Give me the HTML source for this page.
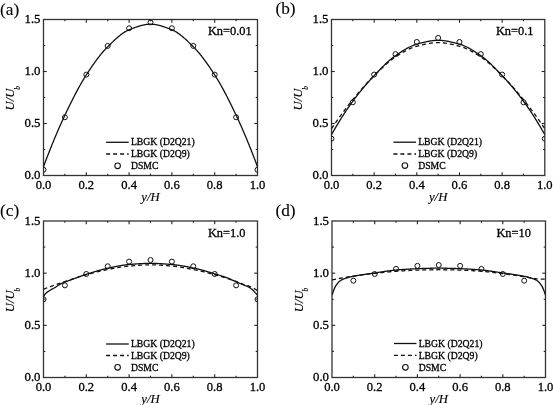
<!DOCTYPE html>
<html><head><meta charset="utf-8"><style>
html,body{margin:0;padding:0;background:#fff;}
svg{display:block;will-change:transform;}
text{font-family:"Liberation Serif", serif;fill:#000;stroke:#000;stroke-width:0.3px;}
</style></head><body>
<svg width="553" height="405" viewBox="0 0 553 405">
<defs><clipPath id="ca"><rect x="43.5" y="19.5" width="214.0" height="156.0"/></clipPath></defs>
<rect x="43.5" y="19.5" width="214.0" height="156.0" fill="none" stroke="#333" stroke-width="1.3"/>
<line x1="64.90" y1="175.5" x2="64.90" y2="173.7" stroke="#222" stroke-width="1.1"/>
<line x1="64.90" y1="19.5" x2="64.90" y2="21.3" stroke="#222" stroke-width="1.1"/>
<line x1="86.30" y1="175.5" x2="86.30" y2="172.3" stroke="#222" stroke-width="1.1"/>
<line x1="86.30" y1="19.5" x2="86.30" y2="22.7" stroke="#222" stroke-width="1.1"/>
<line x1="107.70" y1="175.5" x2="107.70" y2="173.7" stroke="#222" stroke-width="1.1"/>
<line x1="107.70" y1="19.5" x2="107.70" y2="21.3" stroke="#222" stroke-width="1.1"/>
<line x1="129.10" y1="175.5" x2="129.10" y2="172.3" stroke="#222" stroke-width="1.1"/>
<line x1="129.10" y1="19.5" x2="129.10" y2="22.7" stroke="#222" stroke-width="1.1"/>
<line x1="150.50" y1="175.5" x2="150.50" y2="173.7" stroke="#222" stroke-width="1.1"/>
<line x1="150.50" y1="19.5" x2="150.50" y2="21.3" stroke="#222" stroke-width="1.1"/>
<line x1="171.90" y1="175.5" x2="171.90" y2="172.3" stroke="#222" stroke-width="1.1"/>
<line x1="171.90" y1="19.5" x2="171.90" y2="22.7" stroke="#222" stroke-width="1.1"/>
<line x1="193.30" y1="175.5" x2="193.30" y2="173.7" stroke="#222" stroke-width="1.1"/>
<line x1="193.30" y1="19.5" x2="193.30" y2="21.3" stroke="#222" stroke-width="1.1"/>
<line x1="214.70" y1="175.5" x2="214.70" y2="172.3" stroke="#222" stroke-width="1.1"/>
<line x1="214.70" y1="19.5" x2="214.70" y2="22.7" stroke="#222" stroke-width="1.1"/>
<line x1="236.10" y1="175.5" x2="236.10" y2="173.7" stroke="#222" stroke-width="1.1"/>
<line x1="236.10" y1="19.5" x2="236.10" y2="21.3" stroke="#222" stroke-width="1.1"/>
<line x1="43.5" y1="149.50" x2="45.3" y2="149.50" stroke="#222" stroke-width="1.1"/>
<line x1="257.5" y1="149.50" x2="255.7" y2="149.50" stroke="#222" stroke-width="1.1"/>
<line x1="43.5" y1="123.50" x2="46.7" y2="123.50" stroke="#222" stroke-width="1.1"/>
<line x1="257.5" y1="123.50" x2="254.3" y2="123.50" stroke="#222" stroke-width="1.1"/>
<line x1="43.5" y1="97.50" x2="45.3" y2="97.50" stroke="#222" stroke-width="1.1"/>
<line x1="257.5" y1="97.50" x2="255.7" y2="97.50" stroke="#222" stroke-width="1.1"/>
<line x1="43.5" y1="71.50" x2="46.7" y2="71.50" stroke="#222" stroke-width="1.1"/>
<line x1="257.5" y1="71.50" x2="254.3" y2="71.50" stroke="#222" stroke-width="1.1"/>
<line x1="43.5" y1="45.50" x2="45.3" y2="45.50" stroke="#222" stroke-width="1.1"/>
<line x1="257.5" y1="45.50" x2="255.7" y2="45.50" stroke="#222" stroke-width="1.1"/>
<g clip-path="url(#ca)">
<path d="M43.50,166.66L44.04,165.23L44.57,163.81L45.11,162.40L45.65,160.99L46.18,159.58L46.72,158.19L47.25,156.80L47.79,155.42L48.33,154.04L48.86,152.67L49.40,151.31L49.94,149.95L50.47,148.60L51.01,147.26L51.55,145.93L52.08,144.60L52.62,143.28L53.15,141.97L53.69,140.66L54.23,139.37L54.76,138.07L55.30,136.79L55.84,135.52L56.37,134.25L56.91,132.99L57.44,131.74L57.98,130.49L58.52,129.26L59.05,128.03L59.59,126.81L60.13,125.60L60.66,124.39L61.20,123.20L61.74,122.01L62.27,120.83L62.81,119.66L63.34,118.50L63.88,117.35L64.42,116.20L64.95,115.07L65.49,113.94L66.03,112.81L66.56,111.69L67.10,110.57L67.64,109.46L68.17,108.35L68.71,107.24L69.24,106.14L69.78,105.05L70.32,103.96L70.85,102.87L71.39,101.79L71.93,100.72L72.46,99.66L73.00,98.60L73.54,97.54L74.07,96.50L74.61,95.46L75.14,94.42L75.68,93.40L76.22,92.38L76.75,91.37L77.29,90.37L77.83,89.38L78.36,88.39L78.90,87.42L79.43,86.45L79.97,85.49L80.51,84.54L81.04,83.60L81.58,82.67L82.12,81.75L82.65,80.84L83.19,79.94L83.73,79.05L84.26,78.17L84.80,77.30L85.33,76.45L85.87,75.60L86.41,74.77L86.94,73.94L87.48,73.11L88.02,72.29L88.55,71.48L89.09,70.67L89.63,69.86L90.16,69.06L90.70,68.26L91.23,67.47L91.77,66.68L92.31,65.90L92.84,65.13L93.38,64.36L93.92,63.60L94.45,62.84L94.99,62.09L95.53,61.35L96.06,60.61L96.60,59.88L97.13,59.16L97.67,58.45L98.21,57.74L98.74,57.05L99.28,56.36L99.82,55.67L100.35,55.00L100.89,54.34L101.42,53.68L101.96,53.04L102.50,52.40L103.03,51.77L103.57,51.16L104.11,50.55L104.64,49.95L105.18,49.36L105.72,48.79L106.25,48.22L106.79,47.67L107.32,47.12L107.86,46.59L108.40,46.06L108.93,45.53L109.47,45.00L110.01,44.47L110.54,43.94L111.08,43.42L111.62,42.90L112.15,42.38L112.69,41.86L113.22,41.35L113.76,40.84L114.30,40.34L114.83,39.84L115.37,39.35L115.91,38.86L116.44,38.38L116.98,37.90L117.52,37.44L118.05,36.98L118.59,36.52L119.12,36.08L119.66,35.64L120.20,35.21L120.73,34.80L121.27,34.39L121.81,33.99L122.34,33.60L122.88,33.23L123.41,32.86L123.95,32.51L124.49,32.17L125.02,31.84L125.56,31.52L126.10,31.22L126.63,30.93L127.17,30.66L127.71,30.40L128.24,30.15L128.78,29.93L129.31,29.71L129.85,29.50L130.39,29.29L130.92,29.08L131.46,28.87L132.00,28.66L132.53,28.45L133.07,28.25L133.61,28.05L134.14,27.85L134.68,27.65L135.21,27.45L135.75,27.26L136.29,27.07L136.82,26.89L137.36,26.70L137.90,26.53L138.43,26.35L138.97,26.18L139.51,26.02L140.04,25.86L140.58,25.71L141.11,25.56L141.65,25.42L142.19,25.29L142.72,25.16L143.26,25.03L143.80,24.92L144.33,24.81L144.87,24.71L145.40,24.62L145.94,24.53L146.48,24.46L147.01,24.39L147.55,24.33L148.09,24.28L148.62,24.24L149.16,24.21L149.70,24.19L150.23,24.18L150.77,24.18L151.30,24.19L151.84,24.21L152.38,24.24L152.91,24.28L153.45,24.33L153.99,24.39L154.52,24.46L155.06,24.53L155.60,24.62L156.13,24.71L156.67,24.81L157.20,24.92L157.74,25.03L158.28,25.16L158.81,25.29L159.35,25.42L159.89,25.56L160.42,25.71L160.96,25.86L161.49,26.02L162.03,26.18L162.57,26.35L163.10,26.53L163.64,26.70L164.18,26.89L164.71,27.07L165.25,27.26L165.79,27.45L166.32,27.65L166.86,27.85L167.39,28.05L167.93,28.25L168.47,28.45L169.00,28.66L169.54,28.87L170.08,29.08L170.61,29.29L171.15,29.50L171.69,29.71L172.22,29.93L172.76,30.15L173.29,30.40L173.83,30.66L174.37,30.93L174.90,31.22L175.44,31.52L175.98,31.84L176.51,32.17L177.05,32.51L177.59,32.86L178.12,33.23L178.66,33.60L179.19,33.99L179.73,34.39L180.27,34.80L180.80,35.21L181.34,35.64L181.88,36.08L182.41,36.52L182.95,36.98L183.48,37.44L184.02,37.90L184.56,38.38L185.09,38.86L185.63,39.35L186.17,39.84L186.70,40.34L187.24,40.84L187.78,41.35L188.31,41.86L188.85,42.38L189.38,42.90L189.92,43.42L190.46,43.94L190.99,44.47L191.53,45.00L192.07,45.53L192.60,46.06L193.14,46.59L193.68,47.12L194.21,47.67L194.75,48.22L195.28,48.79L195.82,49.36L196.36,49.95L196.89,50.55L197.43,51.16L197.97,51.77L198.50,52.40L199.04,53.04L199.58,53.68L200.11,54.34L200.65,55.00L201.18,55.67L201.72,56.36L202.26,57.05L202.79,57.74L203.33,58.45L203.87,59.16L204.40,59.88L204.94,60.61L205.47,61.35L206.01,62.09L206.55,62.84L207.08,63.60L207.62,64.36L208.16,65.13L208.69,65.90L209.23,66.68L209.77,67.47L210.30,68.26L210.84,69.06L211.37,69.86L211.91,70.67L212.45,71.48L212.98,72.29L213.52,73.11L214.06,73.94L214.59,74.77L215.13,75.60L215.67,76.45L216.20,77.30L216.74,78.17L217.27,79.05L217.81,79.94L218.35,80.84L218.88,81.75L219.42,82.67L219.96,83.60L220.49,84.54L221.03,85.49L221.57,86.45L222.10,87.42L222.64,88.39L223.17,89.38L223.71,90.37L224.25,91.37L224.78,92.38L225.32,93.40L225.86,94.42L226.39,95.46L226.93,96.50L227.46,97.54L228.00,98.60L228.54,99.66L229.07,100.72L229.61,101.79L230.15,102.87L230.68,103.96L231.22,105.05L231.76,106.14L232.29,107.24L232.83,108.35L233.36,109.46L233.90,110.57L234.44,111.69L234.97,112.81L235.51,113.94L236.05,115.07L236.58,116.20L237.12,117.35L237.66,118.50L238.19,119.66L238.73,120.83L239.26,122.01L239.80,123.20L240.34,124.39L240.87,125.60L241.41,126.81L241.95,128.03L242.48,129.26L243.02,130.49L243.56,131.74L244.09,132.99L244.63,134.25L245.16,135.52L245.70,136.79L246.24,138.07L246.77,139.37L247.31,140.66L247.85,141.97L248.38,143.28L248.92,144.60L249.45,145.93L249.99,147.26L250.53,148.60L251.06,149.95L251.60,151.31L252.14,152.67L252.67,154.04L253.21,155.42L253.75,156.80L254.28,158.19L254.82,159.58L255.35,160.99L255.89,162.40L256.43,163.81L256.96,165.23L257.50,166.66" fill="none" stroke="#111" stroke-width="1.3"/>
<circle cx="43.50" cy="169.78" r="2.5" fill="none" stroke="#111" stroke-width="1.0"/>
<circle cx="64.90" cy="117.26" r="2.5" fill="none" stroke="#111" stroke-width="1.0"/>
<circle cx="86.30" cy="74.62" r="2.5" fill="none" stroke="#111" stroke-width="1.0"/>
<circle cx="107.70" cy="45.92" r="2.5" fill="none" stroke="#111" stroke-width="1.0"/>
<circle cx="129.10" cy="28.24" r="2.5" fill="none" stroke="#111" stroke-width="1.0"/>
<circle cx="150.50" cy="22.41" r="2.5" fill="none" stroke="#111" stroke-width="1.0"/>
<circle cx="171.90" cy="28.24" r="2.5" fill="none" stroke="#111" stroke-width="1.0"/>
<circle cx="193.30" cy="45.92" r="2.5" fill="none" stroke="#111" stroke-width="1.0"/>
<circle cx="214.70" cy="74.62" r="2.5" fill="none" stroke="#111" stroke-width="1.0"/>
<circle cx="236.10" cy="117.26" r="2.5" fill="none" stroke="#111" stroke-width="1.0"/>
<circle cx="257.50" cy="169.78" r="2.5" fill="none" stroke="#111" stroke-width="1.0"/>
</g>
<text x="43.50" y="188.8" text-anchor="middle" font-size="12.6">0.0</text>
<text x="86.30" y="188.8" text-anchor="middle" font-size="12.6">0.2</text>
<text x="129.10" y="188.8" text-anchor="middle" font-size="12.6">0.4</text>
<text x="171.90" y="188.8" text-anchor="middle" font-size="12.6">0.6</text>
<text x="214.70" y="188.8" text-anchor="middle" font-size="12.6">0.8</text>
<text x="257.50" y="188.8" text-anchor="middle" font-size="12.6">1.0</text>
<text x="40.5" y="178.60" text-anchor="end" font-size="12.8">0.0</text>
<text x="40.5" y="126.60" text-anchor="end" font-size="12.8">0.5</text>
<text x="40.5" y="74.60" text-anchor="end" font-size="12.8">1.0</text>
<text x="40.5" y="22.60" text-anchor="end" font-size="12.8">1.5</text>
<text x="150.50" y="201.1" text-anchor="middle" font-size="12.7" font-style="italic" style="stroke-width:0.15px">y/H</text>
<g transform="translate(14.2,98.2) rotate(-90)"><text x="0" y="0" text-anchor="middle" font-size="12.7" font-style="italic" style="stroke-width:0.15px">U/U<tspan font-size="7.5" dx="-1.0" dy="5.5">b</tspan></text></g>
<text x="0" y="15.0" font-size="17.3" style="stroke-width:0.1px">(a)</text>
<text x="207.9" y="35.4" font-size="12.4">Kn=0.01</text>
<line x1="106.1" y1="142.3" x2="128.7" y2="142.3" stroke="#111" stroke-width="1.3"/>
<line x1="106.1" y1="154.0" x2="128.7" y2="154.0" stroke="#111" stroke-width="1.3" stroke-dasharray="4,3"/>
<circle cx="117.6" cy="165.8" r="2.8" fill="none" stroke="#111" stroke-width="1.1"/>
<text x="130.90" y="145.30" font-size="9.7">LBGK (D2Q21)</text>
<text x="130.90" y="156.60" font-size="9.7">LBGK (D2Q9)</text>
<text x="130.90" y="168.70" font-size="9.7">DSMC</text>
<defs><clipPath id="cb"><rect x="331.5" y="19.5" width="213.29999999999995" height="156.0"/></clipPath></defs>
<rect x="331.5" y="19.5" width="213.29999999999995" height="156.0" fill="none" stroke="#333" stroke-width="1.3"/>
<line x1="352.83" y1="175.5" x2="352.83" y2="173.7" stroke="#222" stroke-width="1.1"/>
<line x1="352.83" y1="19.5" x2="352.83" y2="21.3" stroke="#222" stroke-width="1.1"/>
<line x1="374.16" y1="175.5" x2="374.16" y2="172.3" stroke="#222" stroke-width="1.1"/>
<line x1="374.16" y1="19.5" x2="374.16" y2="22.7" stroke="#222" stroke-width="1.1"/>
<line x1="395.49" y1="175.5" x2="395.49" y2="173.7" stroke="#222" stroke-width="1.1"/>
<line x1="395.49" y1="19.5" x2="395.49" y2="21.3" stroke="#222" stroke-width="1.1"/>
<line x1="416.82" y1="175.5" x2="416.82" y2="172.3" stroke="#222" stroke-width="1.1"/>
<line x1="416.82" y1="19.5" x2="416.82" y2="22.7" stroke="#222" stroke-width="1.1"/>
<line x1="438.15" y1="175.5" x2="438.15" y2="173.7" stroke="#222" stroke-width="1.1"/>
<line x1="438.15" y1="19.5" x2="438.15" y2="21.3" stroke="#222" stroke-width="1.1"/>
<line x1="459.48" y1="175.5" x2="459.48" y2="172.3" stroke="#222" stroke-width="1.1"/>
<line x1="459.48" y1="19.5" x2="459.48" y2="22.7" stroke="#222" stroke-width="1.1"/>
<line x1="480.81" y1="175.5" x2="480.81" y2="173.7" stroke="#222" stroke-width="1.1"/>
<line x1="480.81" y1="19.5" x2="480.81" y2="21.3" stroke="#222" stroke-width="1.1"/>
<line x1="502.14" y1="175.5" x2="502.14" y2="172.3" stroke="#222" stroke-width="1.1"/>
<line x1="502.14" y1="19.5" x2="502.14" y2="22.7" stroke="#222" stroke-width="1.1"/>
<line x1="523.47" y1="175.5" x2="523.47" y2="173.7" stroke="#222" stroke-width="1.1"/>
<line x1="523.47" y1="19.5" x2="523.47" y2="21.3" stroke="#222" stroke-width="1.1"/>
<line x1="331.5" y1="149.50" x2="333.3" y2="149.50" stroke="#222" stroke-width="1.1"/>
<line x1="544.8" y1="149.50" x2="543.0" y2="149.50" stroke="#222" stroke-width="1.1"/>
<line x1="331.5" y1="123.50" x2="334.7" y2="123.50" stroke="#222" stroke-width="1.1"/>
<line x1="544.8" y1="123.50" x2="541.5999999999999" y2="123.50" stroke="#222" stroke-width="1.1"/>
<line x1="331.5" y1="97.50" x2="333.3" y2="97.50" stroke="#222" stroke-width="1.1"/>
<line x1="544.8" y1="97.50" x2="543.0" y2="97.50" stroke="#222" stroke-width="1.1"/>
<line x1="331.5" y1="71.50" x2="334.7" y2="71.50" stroke="#222" stroke-width="1.1"/>
<line x1="544.8" y1="71.50" x2="541.5999999999999" y2="71.50" stroke="#222" stroke-width="1.1"/>
<line x1="331.5" y1="45.50" x2="333.3" y2="45.50" stroke="#222" stroke-width="1.1"/>
<line x1="544.8" y1="45.50" x2="543.0" y2="45.50" stroke="#222" stroke-width="1.1"/>
<g clip-path="url(#cb)">
<path d="M331.50,134.63L332.03,133.69L332.57,132.76L333.10,131.83L333.64,130.90L334.17,129.99L334.71,129.07L335.24,128.16L335.78,127.25L336.31,126.35L336.85,125.46L337.38,124.57L337.92,123.68L338.45,122.80L338.98,121.92L339.52,121.05L340.05,120.19L340.59,119.32L341.12,118.47L341.66,117.62L342.19,116.77L342.73,115.93L343.26,115.10L343.80,114.27L344.33,113.45L344.86,112.63L345.40,111.82L345.93,111.01L346.47,110.21L347.00,109.41L347.54,108.63L348.07,107.84L348.61,107.07L349.14,106.29L349.68,105.53L350.21,104.77L350.75,104.02L351.28,103.27L351.81,102.53L352.35,101.80L352.88,101.07L353.42,100.35L353.95,99.63L354.49,98.91L355.02,98.21L355.56,97.50L356.09,96.80L356.63,96.11L357.16,95.42L357.69,94.73L358.23,94.05L358.76,93.38L359.30,92.71L359.83,92.04L360.37,91.37L360.90,90.72L361.44,90.06L361.97,89.41L362.51,88.77L363.04,88.12L363.58,87.49L364.11,86.85L364.64,86.22L365.18,85.60L365.71,84.98L366.25,84.36L366.78,83.74L367.32,83.13L367.85,82.53L368.39,81.93L368.92,81.33L369.46,80.73L369.99,80.14L370.52,79.56L371.06,78.97L371.59,78.39L372.13,77.82L372.66,77.24L373.20,76.68L373.73,76.11L374.27,75.55L374.80,74.99L375.34,74.42L375.87,73.86L376.41,73.30L376.94,72.74L377.47,72.18L378.01,71.62L378.54,71.06L379.08,70.51L379.61,69.95L380.15,69.40L380.68,68.85L381.22,68.30L381.75,67.76L382.29,67.22L382.82,66.68L383.35,66.15L383.89,65.62L384.42,65.10L384.96,64.58L385.49,64.06L386.03,63.55L386.56,63.05L387.10,62.55L387.63,62.06L388.17,61.57L388.70,61.09L389.24,60.62L389.77,60.15L390.30,59.69L390.84,59.24L391.37,58.80L391.91,58.37L392.44,57.94L392.98,57.53L393.51,57.12L394.05,56.72L394.58,56.33L395.12,55.95L395.65,55.58L396.18,55.22L396.72,54.85L397.25,54.49L397.79,54.12L398.32,53.76L398.86,53.40L399.39,53.05L399.93,52.69L400.46,52.34L401.00,51.99L401.53,51.64L402.07,51.30L402.60,50.96L403.13,50.62L403.67,50.29L404.20,49.97L404.74,49.64L405.27,49.33L405.81,49.01L406.34,48.71L406.88,48.40L407.41,48.11L407.95,47.82L408.48,47.54L409.02,47.26L409.55,46.99L410.08,46.73L410.62,46.47L411.15,46.23L411.69,45.99L412.22,45.76L412.76,45.54L413.29,45.32L413.83,45.12L414.36,44.92L414.90,44.74L415.43,44.56L415.96,44.39L416.50,44.24L417.03,44.09L417.57,43.95L418.10,43.80L418.64,43.66L419.17,43.51L419.71,43.37L420.24,43.23L420.78,43.09L421.31,42.95L421.85,42.81L422.38,42.68L422.91,42.54L423.45,42.41L423.98,42.28L424.52,42.16L425.05,42.03L425.59,41.91L426.12,41.79L426.66,41.67L427.19,41.56L427.73,41.45L428.26,41.35L428.79,41.25L429.33,41.15L429.86,41.06L430.40,40.97L430.93,40.89L431.47,40.81L432.00,40.73L432.54,40.66L433.07,40.60L433.61,40.54L434.14,40.49L434.68,40.44L435.21,40.40L435.74,40.37L436.28,40.34L436.81,40.32L437.35,40.31L437.88,40.30L438.42,40.30L438.95,40.31L439.49,40.32L440.02,40.34L440.56,40.37L441.09,40.40L441.62,40.44L442.16,40.49L442.69,40.54L443.23,40.60L443.76,40.66L444.30,40.73L444.83,40.81L445.37,40.89L445.90,40.97L446.44,41.06L446.97,41.15L447.51,41.25L448.04,41.35L448.57,41.45L449.11,41.56L449.64,41.67L450.18,41.79L450.71,41.91L451.25,42.03L451.78,42.16L452.32,42.28L452.85,42.41L453.39,42.54L453.92,42.68L454.45,42.81L454.99,42.95L455.52,43.09L456.06,43.23L456.59,43.37L457.13,43.51L457.66,43.66L458.20,43.80L458.73,43.95L459.27,44.09L459.80,44.24L460.34,44.39L460.87,44.56L461.40,44.74L461.94,44.92L462.47,45.12L463.01,45.32L463.54,45.54L464.08,45.76L464.61,45.99L465.15,46.23L465.68,46.47L466.22,46.73L466.75,46.99L467.28,47.26L467.82,47.54L468.35,47.82L468.89,48.11L469.42,48.40L469.96,48.71L470.49,49.01L471.03,49.33L471.56,49.64L472.10,49.97L472.63,50.29L473.17,50.62L473.70,50.96L474.23,51.30L474.77,51.64L475.30,51.99L475.84,52.34L476.37,52.69L476.91,53.05L477.44,53.40L477.98,53.76L478.51,54.12L479.05,54.49L479.58,54.85L480.12,55.22L480.65,55.58L481.18,55.95L481.72,56.33L482.25,56.72L482.79,57.12L483.32,57.53L483.86,57.94L484.39,58.37L484.93,58.80L485.46,59.24L486.00,59.69L486.53,60.15L487.06,60.62L487.60,61.09L488.13,61.57L488.67,62.06L489.20,62.55L489.74,63.05L490.27,63.55L490.81,64.06L491.34,64.58L491.88,65.10L492.41,65.62L492.95,66.15L493.48,66.68L494.01,67.22L494.55,67.76L495.08,68.30L495.62,68.85L496.15,69.40L496.69,69.95L497.22,70.51L497.76,71.06L498.29,71.62L498.83,72.18L499.36,72.74L499.89,73.30L500.43,73.86L500.96,74.42L501.50,74.99L502.03,75.55L502.57,76.11L503.10,76.68L503.64,77.24L504.17,77.82L504.71,78.39L505.24,78.97L505.78,79.56L506.31,80.14L506.84,80.73L507.38,81.33L507.91,81.93L508.45,82.53L508.98,83.13L509.52,83.74L510.05,84.36L510.59,84.98L511.12,85.60L511.66,86.22L512.19,86.85L512.72,87.49L513.26,88.12L513.79,88.77L514.33,89.41L514.86,90.06L515.40,90.72L515.93,91.37L516.47,92.04L517.00,92.71L517.54,93.38L518.07,94.05L518.61,94.73L519.14,95.42L519.67,96.11L520.21,96.80L520.74,97.50L521.28,98.21L521.81,98.91L522.35,99.63L522.88,100.35L523.42,101.07L523.95,101.80L524.49,102.53L525.02,103.27L525.55,104.02L526.09,104.77L526.62,105.53L527.16,106.29L527.69,107.07L528.23,107.84L528.76,108.63L529.30,109.41L529.83,110.21L530.37,111.01L530.90,111.82L531.44,112.63L531.97,113.45L532.50,114.27L533.04,115.10L533.57,115.93L534.11,116.77L534.64,117.62L535.18,118.47L535.71,119.32L536.25,120.19L536.78,121.05L537.32,121.92L537.85,122.80L538.38,123.68L538.92,124.57L539.45,125.46L539.99,126.35L540.52,127.25L541.06,128.16L541.59,129.07L542.13,129.99L542.66,130.90L543.20,131.83L543.73,132.76L544.27,133.69L544.80,134.63" fill="none" stroke="#111" stroke-width="1.3"/>
<path d="M331.50,128.70L332.03,127.91L332.57,127.12L333.10,126.33L333.64,125.54L334.17,124.76L334.71,123.98L335.24,123.21L335.78,122.44L336.31,121.67L336.85,120.90L337.38,120.14L337.92,119.38L338.45,118.62L338.98,117.87L339.52,117.12L340.05,116.37L340.59,115.63L341.12,114.89L341.66,114.15L342.19,113.42L342.73,112.69L343.26,111.97L343.80,111.24L344.33,110.52L344.86,109.81L345.40,109.10L345.93,108.39L346.47,107.68L347.00,106.98L347.54,106.28L348.07,105.59L348.61,104.90L349.14,104.21L349.68,103.53L350.21,102.85L350.75,102.18L351.28,101.51L351.81,100.84L352.35,100.17L352.88,99.51L353.42,98.86L353.95,98.20L354.49,97.55L355.02,96.90L355.56,96.25L356.09,95.61L356.63,94.97L357.16,94.33L357.69,93.69L358.23,93.05L358.76,92.42L359.30,91.79L359.83,91.17L360.37,90.55L360.90,89.93L361.44,89.31L361.97,88.69L362.51,88.08L363.04,87.48L363.58,86.87L364.11,86.27L364.64,85.67L365.18,85.08L365.71,84.49L366.25,83.90L366.78,83.32L367.32,82.74L367.85,82.16L368.39,81.59L368.92,81.02L369.46,80.46L369.99,79.89L370.52,79.34L371.06,78.79L371.59,78.24L372.13,77.69L372.66,77.15L373.20,76.61L373.73,76.08L374.27,75.55L374.80,75.03L375.34,74.50L375.87,73.97L376.41,73.45L376.94,72.92L377.47,72.39L378.01,71.87L378.54,71.35L379.08,70.82L379.61,70.30L380.15,69.79L380.68,69.27L381.22,68.76L381.75,68.25L382.29,67.74L382.82,67.23L383.35,66.73L383.89,66.24L384.42,65.74L384.96,65.26L385.49,64.77L386.03,64.29L386.56,63.82L387.10,63.35L387.63,62.89L388.17,62.44L388.70,61.99L389.24,61.54L389.77,61.11L390.30,60.68L390.84,60.26L391.37,59.84L391.91,59.44L392.44,59.04L392.98,58.65L393.51,58.27L394.05,57.90L394.58,57.53L395.12,57.18L395.65,56.84L396.18,56.50L396.72,56.16L397.25,55.82L397.79,55.48L398.32,55.15L398.86,54.81L399.39,54.48L399.93,54.15L400.46,53.82L401.00,53.50L401.53,53.18L402.07,52.86L402.60,52.55L403.13,52.24L403.67,51.93L404.20,51.63L404.74,51.33L405.27,51.03L405.81,50.75L406.34,50.46L406.88,50.18L407.41,49.91L407.95,49.64L408.48,49.38L409.02,49.12L409.55,48.87L410.08,48.63L410.62,48.40L411.15,48.17L411.69,47.94L412.22,47.73L412.76,47.52L413.29,47.33L413.83,47.13L414.36,46.95L414.90,46.78L415.43,46.61L415.96,46.46L416.50,46.31L417.03,46.17L417.57,46.04L418.10,45.90L418.64,45.77L419.17,45.63L419.71,45.50L420.24,45.36L420.78,45.23L421.31,45.10L421.85,44.97L422.38,44.84L422.91,44.71L423.45,44.59L423.98,44.47L424.52,44.35L425.05,44.23L425.59,44.11L426.12,44.00L426.66,43.89L427.19,43.79L427.73,43.68L428.26,43.58L428.79,43.49L429.33,43.40L429.86,43.31L430.40,43.22L430.93,43.14L431.47,43.07L432.00,43.00L432.54,42.93L433.07,42.87L433.61,42.82L434.14,42.77L434.68,42.73L435.21,42.69L435.74,42.66L436.28,42.63L436.81,42.61L437.35,42.60L437.88,42.59L438.42,42.59L438.95,42.60L439.49,42.61L440.02,42.63L440.56,42.66L441.09,42.69L441.62,42.73L442.16,42.77L442.69,42.82L443.23,42.87L443.76,42.93L444.30,43.00L444.83,43.07L445.37,43.14L445.90,43.22L446.44,43.31L446.97,43.40L447.51,43.49L448.04,43.58L448.57,43.68L449.11,43.79L449.64,43.89L450.18,44.00L450.71,44.11L451.25,44.23L451.78,44.35L452.32,44.47L452.85,44.59L453.39,44.71L453.92,44.84L454.45,44.97L454.99,45.10L455.52,45.23L456.06,45.36L456.59,45.50L457.13,45.63L457.66,45.77L458.20,45.90L458.73,46.04L459.27,46.17L459.80,46.31L460.34,46.46L460.87,46.61L461.40,46.78L461.94,46.95L462.47,47.13L463.01,47.33L463.54,47.52L464.08,47.73L464.61,47.94L465.15,48.17L465.68,48.40L466.22,48.63L466.75,48.87L467.28,49.12L467.82,49.38L468.35,49.64L468.89,49.91L469.42,50.18L469.96,50.46L470.49,50.75L471.03,51.03L471.56,51.33L472.10,51.63L472.63,51.93L473.17,52.24L473.70,52.55L474.23,52.86L474.77,53.18L475.30,53.50L475.84,53.82L476.37,54.15L476.91,54.48L477.44,54.81L477.98,55.15L478.51,55.48L479.05,55.82L479.58,56.16L480.12,56.50L480.65,56.84L481.18,57.18L481.72,57.53L482.25,57.90L482.79,58.27L483.32,58.65L483.86,59.04L484.39,59.44L484.93,59.84L485.46,60.26L486.00,60.68L486.53,61.11L487.06,61.54L487.60,61.99L488.13,62.44L488.67,62.89L489.20,63.35L489.74,63.82L490.27,64.29L490.81,64.77L491.34,65.26L491.88,65.74L492.41,66.24L492.95,66.73L493.48,67.23L494.01,67.74L494.55,68.25L495.08,68.76L495.62,69.27L496.15,69.79L496.69,70.30L497.22,70.82L497.76,71.35L498.29,71.87L498.83,72.39L499.36,72.92L499.89,73.45L500.43,73.97L500.96,74.50L501.50,75.03L502.03,75.55L502.57,76.08L503.10,76.61L503.64,77.15L504.17,77.69L504.71,78.24L505.24,78.79L505.78,79.34L506.31,79.89L506.84,80.46L507.38,81.02L507.91,81.59L508.45,82.16L508.98,82.74L509.52,83.32L510.05,83.90L510.59,84.49L511.12,85.08L511.66,85.67L512.19,86.27L512.72,86.87L513.26,87.48L513.79,88.08L514.33,88.69L514.86,89.31L515.40,89.93L515.93,90.55L516.47,91.17L517.00,91.79L517.54,92.42L518.07,93.05L518.61,93.69L519.14,94.33L519.67,94.97L520.21,95.61L520.74,96.25L521.28,96.90L521.81,97.55L522.35,98.20L522.88,98.86L523.42,99.51L523.95,100.17L524.49,100.84L525.02,101.51L525.55,102.18L526.09,102.85L526.62,103.53L527.16,104.21L527.69,104.90L528.23,105.59L528.76,106.28L529.30,106.98L529.83,107.68L530.37,108.39L530.90,109.10L531.44,109.81L531.97,110.52L532.50,111.24L533.04,111.97L533.57,112.69L534.11,113.42L534.64,114.15L535.18,114.89L535.71,115.63L536.25,116.37L536.78,117.12L537.32,117.87L537.85,118.62L538.38,119.38L538.92,120.14L539.45,120.90L539.99,121.67L540.52,122.44L541.06,123.21L541.59,123.98L542.13,124.76L542.66,125.54L543.20,126.33L543.73,127.12L544.27,127.91L544.80,128.70" fill="none" stroke="#111" stroke-width="1.3" stroke-dasharray="4,3"/>
<circle cx="331.50" cy="138.68" r="2.5" fill="none" stroke="#111" stroke-width="1.0"/>
<circle cx="352.83" cy="102.28" r="2.5" fill="none" stroke="#111" stroke-width="1.0"/>
<circle cx="374.16" cy="74.52" r="2.5" fill="none" stroke="#111" stroke-width="1.0"/>
<circle cx="395.49" cy="54.13" r="2.5" fill="none" stroke="#111" stroke-width="1.0"/>
<circle cx="416.82" cy="41.96" r="2.5" fill="none" stroke="#111" stroke-width="1.0"/>
<circle cx="438.15" cy="37.91" r="2.5" fill="none" stroke="#111" stroke-width="1.0"/>
<circle cx="459.48" cy="41.96" r="2.5" fill="none" stroke="#111" stroke-width="1.0"/>
<circle cx="480.81" cy="54.13" r="2.5" fill="none" stroke="#111" stroke-width="1.0"/>
<circle cx="502.14" cy="74.52" r="2.5" fill="none" stroke="#111" stroke-width="1.0"/>
<circle cx="523.47" cy="102.28" r="2.5" fill="none" stroke="#111" stroke-width="1.0"/>
<circle cx="544.80" cy="138.68" r="2.5" fill="none" stroke="#111" stroke-width="1.0"/>
</g>
<text x="331.50" y="188.8" text-anchor="middle" font-size="12.6">0.0</text>
<text x="374.16" y="188.8" text-anchor="middle" font-size="12.6">0.2</text>
<text x="416.82" y="188.8" text-anchor="middle" font-size="12.6">0.4</text>
<text x="459.48" y="188.8" text-anchor="middle" font-size="12.6">0.6</text>
<text x="502.14" y="188.8" text-anchor="middle" font-size="12.6">0.8</text>
<text x="544.80" y="188.8" text-anchor="middle" font-size="12.6">1.0</text>
<text x="328.5" y="178.60" text-anchor="end" font-size="12.8">0.0</text>
<text x="328.5" y="126.60" text-anchor="end" font-size="12.8">0.5</text>
<text x="328.5" y="74.60" text-anchor="end" font-size="12.8">1.0</text>
<text x="328.5" y="22.60" text-anchor="end" font-size="12.8">1.5</text>
<text x="438.15" y="201.1" text-anchor="middle" font-size="12.7" font-style="italic" style="stroke-width:0.15px">y/H</text>
<g transform="translate(302.2,98.2) rotate(-90)"><text x="0" y="0" text-anchor="middle" font-size="12.7" font-style="italic" style="stroke-width:0.15px">U/U<tspan font-size="7.5" dx="-1.0" dy="5.5">b</tspan></text></g>
<text x="275.4" y="14.3" font-size="17.3" style="stroke-width:0.1px">(b)</text>
<text x="495.9" y="35.4" font-size="12.4">Kn=0.1</text>
<line x1="393.4" y1="142.2" x2="416.0" y2="142.2" stroke="#111" stroke-width="1.3"/>
<line x1="393.4" y1="154.0" x2="416.0" y2="154.0" stroke="#111" stroke-width="1.3" stroke-dasharray="4,3"/>
<circle cx="404.9" cy="165.6" r="2.8" fill="none" stroke="#111" stroke-width="1.1"/>
<text x="418.20" y="145.30" font-size="9.7">LBGK (D2Q21)</text>
<text x="418.20" y="156.60" font-size="9.7">LBGK (D2Q9)</text>
<text x="418.20" y="168.70" font-size="9.7">DSMC</text>
<defs><clipPath id="cc"><rect x="43.5" y="221" width="214.0" height="156.5"/></clipPath></defs>
<rect x="43.5" y="221" width="214.0" height="156.5" fill="none" stroke="#333" stroke-width="1.3"/>
<line x1="64.90" y1="377.5" x2="64.90" y2="375.7" stroke="#222" stroke-width="1.1"/>
<line x1="64.90" y1="221" x2="64.90" y2="222.8" stroke="#222" stroke-width="1.1"/>
<line x1="86.30" y1="377.5" x2="86.30" y2="374.3" stroke="#222" stroke-width="1.1"/>
<line x1="86.30" y1="221" x2="86.30" y2="224.2" stroke="#222" stroke-width="1.1"/>
<line x1="107.70" y1="377.5" x2="107.70" y2="375.7" stroke="#222" stroke-width="1.1"/>
<line x1="107.70" y1="221" x2="107.70" y2="222.8" stroke="#222" stroke-width="1.1"/>
<line x1="129.10" y1="377.5" x2="129.10" y2="374.3" stroke="#222" stroke-width="1.1"/>
<line x1="129.10" y1="221" x2="129.10" y2="224.2" stroke="#222" stroke-width="1.1"/>
<line x1="150.50" y1="377.5" x2="150.50" y2="375.7" stroke="#222" stroke-width="1.1"/>
<line x1="150.50" y1="221" x2="150.50" y2="222.8" stroke="#222" stroke-width="1.1"/>
<line x1="171.90" y1="377.5" x2="171.90" y2="374.3" stroke="#222" stroke-width="1.1"/>
<line x1="171.90" y1="221" x2="171.90" y2="224.2" stroke="#222" stroke-width="1.1"/>
<line x1="193.30" y1="377.5" x2="193.30" y2="375.7" stroke="#222" stroke-width="1.1"/>
<line x1="193.30" y1="221" x2="193.30" y2="222.8" stroke="#222" stroke-width="1.1"/>
<line x1="214.70" y1="377.5" x2="214.70" y2="374.3" stroke="#222" stroke-width="1.1"/>
<line x1="214.70" y1="221" x2="214.70" y2="224.2" stroke="#222" stroke-width="1.1"/>
<line x1="236.10" y1="377.5" x2="236.10" y2="375.7" stroke="#222" stroke-width="1.1"/>
<line x1="236.10" y1="221" x2="236.10" y2="222.8" stroke="#222" stroke-width="1.1"/>
<line x1="43.5" y1="351.42" x2="45.3" y2="351.42" stroke="#222" stroke-width="1.1"/>
<line x1="257.5" y1="351.42" x2="255.7" y2="351.42" stroke="#222" stroke-width="1.1"/>
<line x1="43.5" y1="325.33" x2="46.7" y2="325.33" stroke="#222" stroke-width="1.1"/>
<line x1="257.5" y1="325.33" x2="254.3" y2="325.33" stroke="#222" stroke-width="1.1"/>
<line x1="43.5" y1="299.25" x2="45.3" y2="299.25" stroke="#222" stroke-width="1.1"/>
<line x1="257.5" y1="299.25" x2="255.7" y2="299.25" stroke="#222" stroke-width="1.1"/>
<line x1="43.5" y1="273.17" x2="46.7" y2="273.17" stroke="#222" stroke-width="1.1"/>
<line x1="257.5" y1="273.17" x2="254.3" y2="273.17" stroke="#222" stroke-width="1.1"/>
<line x1="43.5" y1="247.08" x2="45.3" y2="247.08" stroke="#222" stroke-width="1.1"/>
<line x1="257.5" y1="247.08" x2="255.7" y2="247.08" stroke="#222" stroke-width="1.1"/>
<g clip-path="url(#cc)">
<path d="M43.50,296.64L44.04,295.74L44.57,294.89L45.11,294.13L45.65,293.51L46.18,292.99L46.72,292.54L47.25,292.12L47.79,291.74L48.33,291.39L48.86,291.05L49.40,290.71L49.94,290.37L50.47,290.04L51.01,289.72L51.55,289.41L52.08,289.11L52.62,288.82L53.15,288.53L53.69,288.24L54.23,287.95L54.76,287.65L55.30,287.34L55.84,287.02L56.37,286.68L56.91,286.33L57.44,285.95L57.98,285.58L58.52,285.20L59.05,284.84L59.59,284.50L60.13,284.18L60.66,283.89L61.20,283.63L61.74,283.38L62.27,283.13L62.81,282.90L63.34,282.68L63.88,282.46L64.42,282.25L64.95,282.05L65.49,281.85L66.03,281.65L66.56,281.46L67.10,281.27L67.64,281.08L68.17,280.89L68.71,280.70L69.24,280.50L69.78,280.31L70.32,280.11L70.85,279.91L71.39,279.70L71.93,279.50L72.46,279.30L73.00,279.09L73.54,278.89L74.07,278.68L74.61,278.48L75.14,278.28L75.68,278.08L76.22,277.87L76.75,277.67L77.29,277.47L77.83,277.27L78.36,277.07L78.90,276.87L79.43,276.68L79.97,276.48L80.51,276.29L81.04,276.10L81.58,275.91L82.12,275.72L82.65,275.53L83.19,275.35L83.73,275.16L84.26,274.98L84.80,274.80L85.33,274.63L85.87,274.45L86.41,274.28L86.94,274.11L87.48,273.94L88.02,273.77L88.55,273.60L89.09,273.43L89.63,273.26L90.16,273.09L90.70,272.93L91.23,272.76L91.77,272.59L92.31,272.43L92.84,272.26L93.38,272.10L93.92,271.93L94.45,271.77L94.99,271.61L95.53,271.45L96.06,271.29L96.60,271.13L97.13,270.97L97.67,270.82L98.21,270.66L98.74,270.51L99.28,270.36L99.82,270.21L100.35,270.06L100.89,269.91L101.42,269.77L101.96,269.62L102.50,269.48L103.03,269.34L103.57,269.20L104.11,269.07L104.64,268.93L105.18,268.80L105.72,268.67L106.25,268.54L106.79,268.42L107.32,268.29L107.86,268.17L108.40,268.05L108.93,267.93L109.47,267.82L110.01,267.71L110.54,267.60L111.08,267.48L111.62,267.37L112.15,267.26L112.69,267.15L113.22,267.04L113.76,266.93L114.30,266.82L114.83,266.71L115.37,266.60L115.91,266.50L116.44,266.39L116.98,266.29L117.52,266.18L118.05,266.08L118.59,265.98L119.12,265.88L119.66,265.79L120.20,265.69L120.73,265.60L121.27,265.51L121.81,265.42L122.34,265.34L122.88,265.25L123.41,265.17L123.95,265.09L124.49,265.02L125.02,264.95L125.56,264.88L126.10,264.81L126.63,264.75L127.17,264.69L127.71,264.63L128.24,264.58L128.78,264.53L129.31,264.49L129.85,264.45L130.39,264.40L130.92,264.36L131.46,264.31L132.00,264.27L132.53,264.23L133.07,264.19L133.61,264.15L134.14,264.10L134.68,264.06L135.21,264.02L135.75,263.98L136.29,263.95L136.82,263.91L137.36,263.87L137.90,263.83L138.43,263.80L138.97,263.76L139.51,263.73L140.04,263.70L140.58,263.67L141.11,263.64L141.65,263.61L142.19,263.58L142.72,263.56L143.26,263.53L143.80,263.51L144.33,263.49L144.87,263.47L145.40,263.45L145.94,263.43L146.48,263.42L147.01,263.40L147.55,263.39L148.09,263.38L148.62,263.37L149.16,263.37L149.70,263.36L150.23,263.36L150.77,263.36L151.30,263.36L151.84,263.37L152.38,263.37L152.91,263.38L153.45,263.39L153.99,263.40L154.52,263.42L155.06,263.43L155.60,263.45L156.13,263.47L156.67,263.49L157.20,263.51L157.74,263.53L158.28,263.56L158.81,263.59L159.35,263.61L159.89,263.64L160.42,263.67L160.96,263.70L161.49,263.74L162.03,263.77L162.57,263.80L163.10,263.84L163.64,263.88L164.18,263.91L164.71,263.95L165.25,263.99L165.79,264.03L166.32,264.07L166.86,264.11L167.39,264.15L167.93,264.19L168.47,264.23L169.00,264.28L169.54,264.32L170.08,264.36L170.61,264.40L171.15,264.45L171.69,264.49L172.22,264.53L172.76,264.58L173.29,264.63L173.83,264.68L174.37,264.74L174.90,264.80L175.44,264.86L175.98,264.92L176.51,264.99L177.05,265.06L177.59,265.13L178.12,265.20L178.66,265.28L179.19,265.36L179.73,265.44L180.27,265.52L180.80,265.60L181.34,265.69L181.88,265.78L182.41,265.87L182.95,265.96L183.48,266.05L184.02,266.15L184.56,266.25L185.09,266.34L185.63,266.44L186.17,266.54L186.70,266.64L187.24,266.75L187.78,266.85L188.31,266.95L188.85,267.06L189.38,267.16L189.92,267.27L190.46,267.38L190.99,267.48L191.53,267.59L192.07,267.70L192.60,267.81L193.14,267.92L193.68,268.03L194.21,268.14L194.75,268.25L195.28,268.37L195.82,268.49L196.36,268.62L196.89,268.74L197.43,268.87L197.97,269.00L198.50,269.14L199.04,269.27L199.58,269.41L200.11,269.55L200.65,269.69L201.18,269.83L201.72,269.98L202.26,270.13L202.79,270.28L203.33,270.43L203.87,270.58L204.40,270.73L204.94,270.89L205.47,271.04L206.01,271.20L206.55,271.36L207.08,271.52L207.62,271.67L208.16,271.84L208.69,272.00L209.23,272.16L209.77,272.32L210.30,272.48L210.84,272.65L211.37,272.81L211.91,272.97L212.45,273.14L212.98,273.30L213.52,273.46L214.06,273.63L214.59,273.79L215.13,273.95L215.67,274.11L216.20,274.28L216.74,274.44L217.27,274.60L217.81,274.76L218.35,274.92L218.88,275.09L219.42,275.25L219.96,275.42L220.49,275.59L221.03,275.75L221.57,275.93L222.10,276.10L222.64,276.27L223.17,276.45L223.71,276.63L224.25,276.81L224.78,277.00L225.32,277.18L225.86,277.38L226.39,277.57L226.93,277.77L227.46,277.97L228.00,278.19L228.54,278.40L229.07,278.63L229.61,278.86L230.15,279.09L230.68,279.33L231.22,279.57L231.76,279.81L232.29,280.05L232.83,280.30L233.36,280.54L233.90,280.78L234.44,281.02L234.97,281.26L235.51,281.49L236.05,281.72L236.58,281.95L237.12,282.18L237.66,282.41L238.19,282.63L238.73,282.86L239.26,283.09L239.80,283.31L240.34,283.54L240.87,283.76L241.41,283.99L241.95,284.22L242.48,284.44L243.02,284.67L243.56,284.89L244.09,285.11L244.63,285.32L245.16,285.53L245.70,285.74L246.24,285.95L246.77,286.17L247.31,286.41L247.85,286.66L248.38,286.93L248.92,287.22L249.45,287.55L249.99,287.89L250.53,288.27L251.06,288.67L251.60,289.09L252.14,289.53L252.67,289.98L253.21,290.46L253.75,291.01L254.28,291.60L254.82,292.21L255.35,292.82L255.89,293.40L256.43,293.96L256.96,294.52L257.50,295.08" fill="none" stroke="#111" stroke-width="1.3"/>
<path d="M43.50,289.23L44.04,289.03L44.57,288.82L45.11,288.62L45.65,288.42L46.18,288.21L46.72,288.01L47.25,287.81L47.79,287.61L48.33,287.41L48.86,287.21L49.40,287.01L49.94,286.81L50.47,286.61L51.01,286.42L51.55,286.22L52.08,286.02L52.62,285.83L53.15,285.63L53.69,285.44L54.23,285.24L54.76,285.05L55.30,284.86L55.84,284.66L56.37,284.47L56.91,284.28L57.44,284.09L57.98,283.90L58.52,283.71L59.05,283.52L59.59,283.34L60.13,283.15L60.66,282.96L61.20,282.78L61.74,282.59L62.27,282.41L62.81,282.22L63.34,282.04L63.88,281.86L64.42,281.68L64.95,281.50L65.49,281.31L66.03,281.13L66.56,280.95L67.10,280.77L67.64,280.59L68.17,280.41L68.71,280.23L69.24,280.05L69.78,279.87L70.32,279.69L70.85,279.51L71.39,279.34L71.93,279.16L72.46,278.98L73.00,278.80L73.54,278.63L74.07,278.45L74.61,278.28L75.14,278.10L75.68,277.93L76.22,277.76L76.75,277.59L77.29,277.42L77.83,277.25L78.36,277.08L78.90,276.91L79.43,276.75L79.97,276.58L80.51,276.42L81.04,276.25L81.58,276.09L82.12,275.93L82.65,275.77L83.19,275.62L83.73,275.46L84.26,275.30L84.80,275.15L85.33,275.00L85.87,274.85L86.41,274.70L86.94,274.55L87.48,274.41L88.02,274.26L88.55,274.11L89.09,273.97L89.63,273.82L90.16,273.68L90.70,273.54L91.23,273.39L91.77,273.25L92.31,273.11L92.84,272.97L93.38,272.83L93.92,272.69L94.45,272.55L94.99,272.41L95.53,272.27L96.06,272.14L96.60,272.00L97.13,271.87L97.67,271.74L98.21,271.61L98.74,271.48L99.28,271.35L99.82,271.22L100.35,271.10L100.89,270.97L101.42,270.85L101.96,270.72L102.50,270.60L103.03,270.48L103.57,270.37L104.11,270.25L104.64,270.14L105.18,270.02L105.72,269.91L106.25,269.80L106.79,269.69L107.32,269.59L107.86,269.48L108.40,269.38L108.93,269.28L109.47,269.17L110.01,269.07L110.54,268.96L111.08,268.86L111.62,268.76L112.15,268.65L112.69,268.55L113.22,268.45L113.76,268.34L114.30,268.24L114.83,268.14L115.37,268.04L115.91,267.95L116.44,267.85L116.98,267.75L117.52,267.66L118.05,267.56L118.59,267.47L119.12,267.38L119.66,267.29L120.20,267.21L120.73,267.12L121.27,267.04L121.81,266.95L122.34,266.87L122.88,266.80L123.41,266.72L123.95,266.65L124.49,266.58L125.02,266.51L125.56,266.44L126.10,266.38L126.63,266.32L127.17,266.26L127.71,266.20L128.24,266.15L128.78,266.10L129.31,266.05L129.85,266.01L130.39,265.96L130.92,265.92L131.46,265.87L132.00,265.82L132.53,265.78L133.07,265.73L133.61,265.69L134.14,265.64L134.68,265.60L135.21,265.56L135.75,265.51L136.29,265.47L136.82,265.43L137.36,265.39L137.90,265.35L138.43,265.31L138.97,265.27L139.51,265.24L140.04,265.20L140.58,265.17L141.11,265.13L141.65,265.10L142.19,265.07L142.72,265.04L143.26,265.01L143.80,264.99L144.33,264.96L144.87,264.94L145.40,264.92L145.94,264.90L146.48,264.88L147.01,264.87L147.55,264.85L148.09,264.84L148.62,264.83L149.16,264.83L149.70,264.82L150.23,264.82L150.77,264.82L151.30,264.82L151.84,264.83L152.38,264.83L152.91,264.84L153.45,264.85L153.99,264.87L154.52,264.88L155.06,264.90L155.60,264.92L156.13,264.94L156.67,264.96L157.20,264.99L157.74,265.01L158.28,265.04L158.81,265.07L159.35,265.10L159.89,265.13L160.42,265.17L160.96,265.20L161.49,265.24L162.03,265.27L162.57,265.31L163.10,265.35L163.64,265.39L164.18,265.43L164.71,265.47L165.25,265.51L165.79,265.56L166.32,265.60L166.86,265.64L167.39,265.69L167.93,265.73L168.47,265.78L169.00,265.82L169.54,265.87L170.08,265.92L170.61,265.96L171.15,266.01L171.69,266.05L172.22,266.10L172.76,266.15L173.29,266.20L173.83,266.26L174.37,266.32L174.90,266.38L175.44,266.44L175.98,266.51L176.51,266.58L177.05,266.65L177.59,266.72L178.12,266.80L178.66,266.87L179.19,266.95L179.73,267.04L180.27,267.12L180.80,267.21L181.34,267.29L181.88,267.38L182.41,267.47L182.95,267.56L183.48,267.66L184.02,267.75L184.56,267.85L185.09,267.95L185.63,268.04L186.17,268.14L186.70,268.24L187.24,268.34L187.78,268.45L188.31,268.55L188.85,268.65L189.38,268.76L189.92,268.86L190.46,268.96L190.99,269.07L191.53,269.17L192.07,269.28L192.60,269.38L193.14,269.48L193.68,269.59L194.21,269.69L194.75,269.80L195.28,269.91L195.82,270.02L196.36,270.14L196.89,270.25L197.43,270.37L197.97,270.49L198.50,270.61L199.04,270.73L199.58,270.85L200.11,270.97L200.65,271.10L201.18,271.22L201.72,271.35L202.26,271.48L202.79,271.61L203.33,271.74L203.87,271.88L204.40,272.01L204.94,272.14L205.47,272.28L206.01,272.42L206.55,272.55L207.08,272.69L207.62,272.83L208.16,272.97L208.69,273.11L209.23,273.26L209.77,273.40L210.30,273.54L210.84,273.68L211.37,273.83L211.91,273.97L212.45,274.12L212.98,274.26L213.52,274.41L214.06,274.56L214.59,274.70L215.13,274.85L215.67,275.00L216.20,275.15L216.74,275.29L217.27,275.45L217.81,275.60L218.35,275.75L218.88,275.90L219.42,276.05L219.96,276.21L220.49,276.36L221.03,276.52L221.57,276.68L222.10,276.84L222.64,277.00L223.17,277.16L223.71,277.32L224.25,277.48L224.78,277.65L225.32,277.81L225.86,277.98L226.39,278.14L226.93,278.31L227.46,278.48L228.00,278.65L228.54,278.83L229.07,279.00L229.61,279.18L230.15,279.35L230.68,279.53L231.22,279.71L231.76,279.89L232.29,280.07L232.83,280.26L233.36,280.44L233.90,280.63L234.44,280.82L234.97,281.01L235.51,281.20L236.05,281.39L236.58,281.59L237.12,281.80L237.66,282.01L238.19,282.23L238.73,282.46L239.26,282.69L239.80,282.92L240.34,283.15L240.87,283.37L241.41,283.59L241.95,283.80L242.48,284.00L243.02,284.20L243.56,284.38L244.09,284.55L244.63,284.72L245.16,284.89L245.70,285.05L246.24,285.21L246.77,285.38L247.31,285.55L247.85,285.72L248.38,285.90L248.92,286.09L249.45,286.30L249.99,286.51L250.53,286.74L251.06,286.99L251.60,287.24L252.14,287.51L252.67,287.78L253.21,288.07L253.75,288.37L254.28,288.68L254.82,288.99L255.35,289.32L255.89,289.65L256.43,289.99L256.96,290.34L257.50,290.69" fill="none" stroke="#111" stroke-width="1.3" stroke-dasharray="4,3"/>
<circle cx="43.50" cy="299.35" r="2.5" fill="none" stroke="#111" stroke-width="1.0"/>
<circle cx="64.90" cy="285.37" r="2.5" fill="none" stroke="#111" stroke-width="1.0"/>
<circle cx="86.30" cy="274.00" r="2.5" fill="none" stroke="#111" stroke-width="1.0"/>
<circle cx="107.70" cy="266.28" r="2.5" fill="none" stroke="#111" stroke-width="1.0"/>
<circle cx="129.10" cy="261.59" r="2.5" fill="none" stroke="#111" stroke-width="1.0"/>
<circle cx="150.50" cy="260.02" r="2.5" fill="none" stroke="#111" stroke-width="1.0"/>
<circle cx="171.90" cy="261.59" r="2.5" fill="none" stroke="#111" stroke-width="1.0"/>
<circle cx="193.30" cy="266.28" r="2.5" fill="none" stroke="#111" stroke-width="1.0"/>
<circle cx="214.70" cy="274.00" r="2.5" fill="none" stroke="#111" stroke-width="1.0"/>
<circle cx="236.10" cy="285.37" r="2.5" fill="none" stroke="#111" stroke-width="1.0"/>
<circle cx="257.50" cy="299.35" r="2.5" fill="none" stroke="#111" stroke-width="1.0"/>
</g>
<text x="43.50" y="390.8" text-anchor="middle" font-size="12.6">0.0</text>
<text x="86.30" y="390.8" text-anchor="middle" font-size="12.6">0.2</text>
<text x="129.10" y="390.8" text-anchor="middle" font-size="12.6">0.4</text>
<text x="171.90" y="390.8" text-anchor="middle" font-size="12.6">0.6</text>
<text x="214.70" y="390.8" text-anchor="middle" font-size="12.6">0.8</text>
<text x="257.50" y="390.8" text-anchor="middle" font-size="12.6">1.0</text>
<text x="40.5" y="381.20" text-anchor="end" font-size="12.8">0.0</text>
<text x="40.5" y="329.03" text-anchor="end" font-size="12.8">0.5</text>
<text x="40.5" y="276.87" text-anchor="end" font-size="12.8">1.0</text>
<text x="40.5" y="224.70" text-anchor="end" font-size="12.8">1.5</text>
<text x="150.50" y="403.1" text-anchor="middle" font-size="12.7" font-style="italic" style="stroke-width:0.15px">y/H</text>
<g transform="translate(14.2,299.95) rotate(-90)"><text x="0" y="0" text-anchor="middle" font-size="12.7" font-style="italic" style="stroke-width:0.15px">U/U<tspan font-size="7.5" dx="-1.0" dy="5.5">b</tspan></text></g>
<text x="0" y="215.9" font-size="17.3" style="stroke-width:0.1px">(c)</text>
<text x="207.9" y="237.4" font-size="12.4">Kn=1.0</text>
<line x1="106.1" y1="344.0" x2="128.7" y2="344.0" stroke="#111" stroke-width="1.3"/>
<line x1="106.1" y1="355.5" x2="128.7" y2="355.5" stroke="#111" stroke-width="1.3" stroke-dasharray="4,3"/>
<circle cx="117.6" cy="367.3" r="2.8" fill="none" stroke="#111" stroke-width="1.1"/>
<text x="130.90" y="347.30" font-size="9.7">LBGK (D2Q21)</text>
<text x="130.90" y="358.60" font-size="9.7">LBGK (D2Q9)</text>
<text x="130.90" y="370.70" font-size="9.7">DSMC</text>
<defs><clipPath id="cd"><rect x="332" y="221" width="213.5" height="156.5"/></clipPath></defs>
<rect x="332" y="221" width="213.5" height="156.5" fill="none" stroke="#333" stroke-width="1.3"/>
<line x1="353.35" y1="377.5" x2="353.35" y2="375.7" stroke="#222" stroke-width="1.1"/>
<line x1="353.35" y1="221" x2="353.35" y2="222.8" stroke="#222" stroke-width="1.1"/>
<line x1="374.70" y1="377.5" x2="374.70" y2="374.3" stroke="#222" stroke-width="1.1"/>
<line x1="374.70" y1="221" x2="374.70" y2="224.2" stroke="#222" stroke-width="1.1"/>
<line x1="396.05" y1="377.5" x2="396.05" y2="375.7" stroke="#222" stroke-width="1.1"/>
<line x1="396.05" y1="221" x2="396.05" y2="222.8" stroke="#222" stroke-width="1.1"/>
<line x1="417.40" y1="377.5" x2="417.40" y2="374.3" stroke="#222" stroke-width="1.1"/>
<line x1="417.40" y1="221" x2="417.40" y2="224.2" stroke="#222" stroke-width="1.1"/>
<line x1="438.75" y1="377.5" x2="438.75" y2="375.7" stroke="#222" stroke-width="1.1"/>
<line x1="438.75" y1="221" x2="438.75" y2="222.8" stroke="#222" stroke-width="1.1"/>
<line x1="460.10" y1="377.5" x2="460.10" y2="374.3" stroke="#222" stroke-width="1.1"/>
<line x1="460.10" y1="221" x2="460.10" y2="224.2" stroke="#222" stroke-width="1.1"/>
<line x1="481.45" y1="377.5" x2="481.45" y2="375.7" stroke="#222" stroke-width="1.1"/>
<line x1="481.45" y1="221" x2="481.45" y2="222.8" stroke="#222" stroke-width="1.1"/>
<line x1="502.80" y1="377.5" x2="502.80" y2="374.3" stroke="#222" stroke-width="1.1"/>
<line x1="502.80" y1="221" x2="502.80" y2="224.2" stroke="#222" stroke-width="1.1"/>
<line x1="524.15" y1="377.5" x2="524.15" y2="375.7" stroke="#222" stroke-width="1.1"/>
<line x1="524.15" y1="221" x2="524.15" y2="222.8" stroke="#222" stroke-width="1.1"/>
<line x1="332" y1="351.42" x2="333.8" y2="351.42" stroke="#222" stroke-width="1.1"/>
<line x1="545.5" y1="351.42" x2="543.7" y2="351.42" stroke="#222" stroke-width="1.1"/>
<line x1="332" y1="325.33" x2="335.2" y2="325.33" stroke="#222" stroke-width="1.1"/>
<line x1="545.5" y1="325.33" x2="542.3" y2="325.33" stroke="#222" stroke-width="1.1"/>
<line x1="332" y1="299.25" x2="333.8" y2="299.25" stroke="#222" stroke-width="1.1"/>
<line x1="545.5" y1="299.25" x2="543.7" y2="299.25" stroke="#222" stroke-width="1.1"/>
<line x1="332" y1="273.17" x2="335.2" y2="273.17" stroke="#222" stroke-width="1.1"/>
<line x1="545.5" y1="273.17" x2="542.3" y2="273.17" stroke="#222" stroke-width="1.1"/>
<line x1="332" y1="247.08" x2="333.8" y2="247.08" stroke="#222" stroke-width="1.1"/>
<line x1="545.5" y1="247.08" x2="543.7" y2="247.08" stroke="#222" stroke-width="1.1"/>
<g clip-path="url(#cd)">
<path d="M332.00,295.08L332.54,293.47L333.07,291.93L333.61,290.47L334.14,289.12L334.68,287.89L335.21,286.82L335.75,285.92L336.28,285.11L336.82,284.35L337.35,283.64L337.89,282.99L338.42,282.39L338.96,281.84L339.49,281.35L340.03,280.93L340.56,280.56L341.10,280.24L341.63,279.94L342.17,279.67L342.70,279.41L343.24,279.17L343.77,278.95L344.31,278.74L344.84,278.55L345.38,278.36L345.91,278.19L346.45,278.02L346.98,277.85L347.52,277.69L348.05,277.53L348.59,277.39L349.12,277.24L349.66,277.11L350.19,276.98L350.73,276.85L351.26,276.73L351.80,276.62L352.33,276.50L352.87,276.39L353.40,276.29L353.94,276.18L354.47,276.08L355.01,275.98L355.54,275.88L356.08,275.78L356.61,275.68L357.15,275.59L357.68,275.50L358.22,275.40L358.75,275.31L359.29,275.23L359.82,275.14L360.36,275.05L360.89,274.97L361.43,274.88L361.96,274.80L362.50,274.72L363.04,274.64L363.57,274.55L364.11,274.48L364.64,274.40L365.18,274.32L365.71,274.24L366.25,274.16L366.78,274.09L367.32,274.01L367.85,273.93L368.39,273.86L368.92,273.78L369.46,273.71L369.99,273.63L370.53,273.55L371.06,273.48L371.60,273.40L372.13,273.33L372.67,273.25L373.20,273.17L373.74,273.10L374.27,273.02L374.81,272.94L375.34,272.86L375.88,272.78L376.41,272.70L376.95,272.62L377.48,272.54L378.02,272.46L378.55,272.38L379.09,272.30L379.62,272.21L380.16,272.13L380.69,272.05L381.23,271.97L381.76,271.88L382.30,271.80L382.83,271.72L383.37,271.64L383.90,271.56L384.44,271.48L384.97,271.40L385.51,271.32L386.04,271.24L386.58,271.16L387.11,271.09L387.65,271.01L388.18,270.94L388.72,270.87L389.25,270.79L389.79,270.72L390.32,270.66L390.86,270.59L391.39,270.52L391.93,270.46L392.46,270.40L393.00,270.34L393.54,270.28L394.07,270.22L394.61,270.17L395.14,270.12L395.68,270.07L396.21,270.02L396.75,269.98L397.28,269.93L397.82,269.89L398.35,269.84L398.89,269.80L399.42,269.75L399.96,269.71L400.49,269.67L401.03,269.63L401.56,269.59L402.10,269.55L402.63,269.51L403.17,269.47L403.70,269.43L404.24,269.39L404.77,269.35L405.31,269.32L405.84,269.28L406.38,269.24L406.91,269.21L407.45,269.17L407.98,269.14L408.52,269.11L409.05,269.08L409.59,269.05L410.12,269.02L410.66,268.99L411.19,268.96L411.73,268.93L412.26,268.90L412.80,268.87L413.33,268.85L413.87,268.82L414.40,268.80L414.94,268.78L415.47,268.75L416.01,268.73L416.54,268.71L417.08,268.69L417.61,268.67L418.15,268.65L418.68,268.63L419.22,268.62L419.75,268.60L420.29,268.58L420.82,268.56L421.36,268.54L421.89,268.52L422.43,268.50L422.96,268.49L423.50,268.47L424.04,268.45L424.57,268.43L425.11,268.41L425.64,268.40L426.18,268.38L426.71,268.36L427.25,268.35L427.78,268.33L428.32,268.32L428.85,268.30L429.39,268.29L429.92,268.28L430.46,268.26L430.99,268.25L431.53,268.24L432.06,268.23L432.60,268.22L433.13,268.21L433.67,268.20L434.20,268.19L434.74,268.19L435.27,268.18L435.81,268.17L436.34,268.17L436.88,268.16L437.41,268.16L437.95,268.16L438.48,268.16L439.02,268.16L439.55,268.16L440.09,268.16L440.62,268.16L441.16,268.17L441.69,268.17L442.23,268.18L442.76,268.19L443.30,268.19L443.83,268.20L444.37,268.21L444.90,268.22L445.44,268.23L445.97,268.24L446.51,268.25L447.04,268.26L447.58,268.28L448.11,268.29L448.65,268.30L449.18,268.32L449.72,268.33L450.25,268.35L450.79,268.36L451.32,268.38L451.86,268.40L452.39,268.41L452.93,268.43L453.46,268.45L454.00,268.47L454.54,268.49L455.07,268.50L455.61,268.52L456.14,268.54L456.68,268.56L457.21,268.58L457.75,268.60L458.28,268.62L458.82,268.63L459.35,268.65L459.89,268.67L460.42,268.69L460.96,268.71L461.49,268.73L462.03,268.75L462.56,268.78L463.10,268.80L463.63,268.82L464.17,268.85L464.70,268.87L465.24,268.90L465.77,268.93L466.31,268.96L466.84,268.99L467.38,269.02L467.91,269.05L468.45,269.08L468.98,269.11L469.52,269.14L470.05,269.17L470.59,269.21L471.12,269.24L471.66,269.28L472.19,269.32L472.73,269.35L473.26,269.39L473.80,269.43L474.33,269.47L474.87,269.51L475.40,269.55L475.94,269.59L476.47,269.63L477.01,269.67L477.54,269.71L478.08,269.75L478.61,269.80L479.15,269.84L479.68,269.89L480.22,269.93L480.75,269.98L481.29,270.02L481.82,270.07L482.36,270.12L482.89,270.17L483.43,270.22L483.96,270.28L484.50,270.34L485.04,270.40L485.57,270.46L486.11,270.52L486.64,270.59L487.18,270.66L487.71,270.72L488.25,270.79L488.78,270.87L489.32,270.94L489.85,271.01L490.39,271.09L490.92,271.16L491.46,271.24L491.99,271.32L492.53,271.40L493.06,271.48L493.60,271.56L494.13,271.64L494.67,271.72L495.20,271.80L495.74,271.88L496.27,271.97L496.81,272.05L497.34,272.13L497.88,272.21L498.41,272.30L498.95,272.38L499.48,272.46L500.02,272.54L500.55,272.62L501.09,272.70L501.62,272.78L502.16,272.86L502.69,272.94L503.23,273.02L503.76,273.10L504.30,273.17L504.83,273.25L505.37,273.33L505.90,273.40L506.44,273.48L506.97,273.55L507.51,273.63L508.04,273.71L508.58,273.78L509.11,273.86L509.65,273.93L510.18,274.01L510.72,274.09L511.25,274.16L511.79,274.24L512.32,274.32L512.86,274.40L513.39,274.48L513.93,274.55L514.46,274.64L515.00,274.72L515.54,274.80L516.07,274.88L516.61,274.97L517.14,275.05L517.68,275.14L518.21,275.23L518.75,275.31L519.28,275.40L519.82,275.50L520.35,275.59L520.89,275.68L521.42,275.78L521.96,275.88L522.49,275.98L523.03,276.08L523.56,276.18L524.10,276.29L524.63,276.39L525.17,276.50L525.70,276.62L526.24,276.73L526.77,276.85L527.31,276.98L527.84,277.11L528.38,277.24L528.91,277.39L529.45,277.53L529.98,277.69L530.52,277.85L531.05,278.02L531.59,278.19L532.12,278.36L532.66,278.55L533.19,278.74L533.73,278.95L534.26,279.17L534.80,279.41L535.33,279.67L535.87,279.94L536.40,280.24L536.94,280.56L537.47,280.93L538.01,281.35L538.54,281.84L539.08,282.39L539.61,282.99L540.15,283.64L540.68,284.35L541.22,285.11L541.75,285.92L542.29,286.82L542.82,287.89L543.36,289.12L543.89,290.47L544.43,291.93L544.96,293.47L545.50,295.08" fill="none" stroke="#111" stroke-width="1.3"/>
<path d="M332.00,279.95L332.54,279.84L333.07,279.73L333.61,279.62L334.14,279.51L334.68,279.40L335.21,279.29L335.75,279.19L336.28,279.08L336.82,278.97L337.35,278.87L337.89,278.76L338.42,278.66L338.96,278.56L339.49,278.46L340.03,278.35L340.56,278.25L341.10,278.15L341.63,278.05L342.17,277.96L342.70,277.86L343.24,277.76L343.77,277.66L344.31,277.57L344.84,277.47L345.38,277.38L345.91,277.29L346.45,277.20L346.98,277.10L347.52,277.01L348.05,276.92L348.59,276.84L349.12,276.75L349.66,276.66L350.19,276.58L350.73,276.49L351.26,276.41L351.80,276.32L352.33,276.24L352.87,276.16L353.40,276.08L353.94,276.00L354.47,275.92L355.01,275.84L355.54,275.77L356.08,275.69L356.61,275.61L357.15,275.54L357.68,275.46L358.22,275.39L358.75,275.32L359.29,275.24L359.82,275.17L360.36,275.10L360.89,275.03L361.43,274.96L361.96,274.89L362.50,274.82L363.04,274.75L363.57,274.69L364.11,274.62L364.64,274.55L365.18,274.48L365.71,274.42L366.25,274.35L366.78,274.29L367.32,274.22L367.85,274.16L368.39,274.10L368.92,274.03L369.46,273.97L369.99,273.91L370.53,273.85L371.06,273.78L371.60,273.72L372.13,273.66L372.67,273.60L373.20,273.54L373.74,273.48L374.27,273.42L374.81,273.36L375.34,273.30L375.88,273.25L376.41,273.19L376.95,273.13L377.48,273.07L378.02,273.01L378.55,272.95L379.09,272.89L379.62,272.83L380.16,272.77L380.69,272.72L381.23,272.66L381.76,272.60L382.30,272.54L382.83,272.49L383.37,272.43L383.90,272.37L384.44,272.32L384.97,272.26L385.51,272.21L386.04,272.15L386.58,272.10L387.11,272.05L387.65,272.00L388.18,271.95L388.72,271.89L389.25,271.84L389.79,271.80L390.32,271.75L390.86,271.70L391.39,271.65L391.93,271.61L392.46,271.56L393.00,271.52L393.54,271.48L394.07,271.43L394.61,271.39L395.14,271.35L395.68,271.31L396.21,271.28L396.75,271.24L397.28,271.20L397.82,271.17L398.35,271.13L398.89,271.09L399.42,271.06L399.96,271.02L400.49,270.99L401.03,270.95L401.56,270.92L402.10,270.88L402.63,270.85L403.17,270.82L403.70,270.78L404.24,270.75L404.77,270.72L405.31,270.69L405.84,270.66L406.38,270.63L406.91,270.60L407.45,270.57L407.98,270.54L408.52,270.51L409.05,270.48L409.59,270.45L410.12,270.43L410.66,270.40L411.19,270.38L411.73,270.35L412.26,270.33L412.80,270.31L413.33,270.28L413.87,270.26L414.40,270.24L414.94,270.22L415.47,270.20L416.01,270.18L416.54,270.17L417.08,270.15L417.61,270.13L418.15,270.12L418.68,270.10L419.22,270.09L419.75,270.07L420.29,270.06L420.82,270.04L421.36,270.03L421.89,270.01L422.43,270.00L422.96,269.98L423.50,269.97L424.04,269.95L424.57,269.94L425.11,269.93L425.64,269.91L426.18,269.90L426.71,269.89L427.25,269.87L427.78,269.86L428.32,269.85L428.85,269.84L429.39,269.83L429.92,269.82L430.46,269.81L430.99,269.80L431.53,269.79L432.06,269.78L432.60,269.77L433.13,269.76L433.67,269.76L434.20,269.75L434.74,269.74L435.27,269.74L435.81,269.74L436.34,269.73L436.88,269.73L437.41,269.73L437.95,269.72L438.48,269.72L439.02,269.72L439.55,269.72L440.09,269.73L440.62,269.73L441.16,269.73L441.69,269.74L442.23,269.74L442.76,269.74L443.30,269.75L443.83,269.76L444.37,269.76L444.90,269.77L445.44,269.78L445.97,269.79L446.51,269.80L447.04,269.81L447.58,269.82L448.11,269.83L448.65,269.84L449.18,269.85L449.72,269.86L450.25,269.87L450.79,269.89L451.32,269.90L451.86,269.91L452.39,269.93L452.93,269.94L453.46,269.95L454.00,269.97L454.54,269.98L455.07,270.00L455.61,270.01L456.14,270.03L456.68,270.04L457.21,270.06L457.75,270.07L458.28,270.09L458.82,270.10L459.35,270.12L459.89,270.13L460.42,270.15L460.96,270.17L461.49,270.18L462.03,270.20L462.56,270.22L463.10,270.24L463.63,270.26L464.17,270.28L464.70,270.30L465.24,270.33L465.77,270.35L466.31,270.37L466.84,270.40L467.38,270.42L467.91,270.45L468.45,270.47L468.98,270.50L469.52,270.53L470.05,270.56L470.59,270.59L471.12,270.62L471.66,270.65L472.19,270.68L472.73,270.71L473.26,270.74L473.80,270.77L474.33,270.81L474.87,270.84L475.40,270.87L475.94,270.91L476.47,270.94L477.01,270.98L477.54,271.01L478.08,271.05L478.61,271.09L479.15,271.12L479.68,271.16L480.22,271.20L480.75,271.24L481.29,271.28L481.82,271.32L482.36,271.36L482.89,271.40L483.43,271.44L483.96,271.49L484.50,271.54L485.04,271.59L485.57,271.64L486.11,271.69L486.64,271.74L487.18,271.80L487.71,271.85L488.25,271.91L488.78,271.97L489.32,272.02L489.85,272.08L490.39,272.14L490.92,272.21L491.46,272.27L491.99,272.33L492.53,272.40L493.06,272.46L493.60,272.53L494.13,272.59L494.67,272.66L495.20,272.72L495.74,272.79L496.27,272.86L496.81,272.93L497.34,272.99L497.88,273.06L498.41,273.13L498.95,273.20L499.48,273.27L500.02,273.34L500.55,273.40L501.09,273.47L501.62,273.54L502.16,273.61L502.69,273.67L503.23,273.74L503.76,273.81L504.30,273.88L504.83,273.94L505.37,274.01L505.90,274.08L506.44,274.15L506.97,274.22L507.51,274.29L508.04,274.36L508.58,274.43L509.11,274.50L509.65,274.57L510.18,274.64L510.72,274.71L511.25,274.78L511.79,274.86L512.32,274.93L512.86,275.00L513.39,275.08L513.93,275.15L514.46,275.23L515.00,275.30L515.54,275.38L516.07,275.46L516.61,275.53L517.14,275.61L517.68,275.69L518.21,275.77L518.75,275.85L519.28,275.93L519.82,276.02L520.35,276.10L520.89,276.18L521.42,276.27L521.96,276.35L522.49,276.44L523.03,276.53L523.56,276.62L524.10,276.71L524.63,276.80L525.17,276.90L525.70,277.00L526.24,277.12L526.77,277.23L527.31,277.35L527.84,277.46L528.38,277.58L528.91,277.70L529.45,277.81L529.98,277.92L530.52,278.03L531.05,278.13L531.59,278.22L532.12,278.30L532.66,278.38L533.19,278.45L533.73,278.52L534.26,278.58L534.80,278.65L535.33,278.71L535.87,278.77L536.40,278.83L536.94,278.88L537.47,278.92L538.01,278.96L538.54,278.99L539.08,279.01L539.61,279.02L540.15,279.04L540.68,279.05L541.22,279.06L541.75,279.07L542.29,279.08L542.82,279.09L543.36,279.10L543.89,279.11L544.43,279.11L544.96,279.11L545.50,279.11" fill="none" stroke="#111" stroke-width="1.3" stroke-dasharray="4,3"/>
<circle cx="353.35" cy="280.68" r="2.5" fill="none" stroke="#111" stroke-width="1.0"/>
<circle cx="374.70" cy="274.00" r="2.5" fill="none" stroke="#111" stroke-width="1.0"/>
<circle cx="396.05" cy="268.89" r="2.5" fill="none" stroke="#111" stroke-width="1.0"/>
<circle cx="417.40" cy="265.86" r="2.5" fill="none" stroke="#111" stroke-width="1.0"/>
<circle cx="438.75" cy="265.03" r="2.5" fill="none" stroke="#111" stroke-width="1.0"/>
<circle cx="460.10" cy="265.86" r="2.5" fill="none" stroke="#111" stroke-width="1.0"/>
<circle cx="481.45" cy="268.89" r="2.5" fill="none" stroke="#111" stroke-width="1.0"/>
<circle cx="502.80" cy="274.00" r="2.5" fill="none" stroke="#111" stroke-width="1.0"/>
<circle cx="524.15" cy="280.68" r="2.5" fill="none" stroke="#111" stroke-width="1.0"/>
</g>
<text x="332.00" y="390.8" text-anchor="middle" font-size="12.6">0.0</text>
<text x="374.70" y="390.8" text-anchor="middle" font-size="12.6">0.2</text>
<text x="417.40" y="390.8" text-anchor="middle" font-size="12.6">0.4</text>
<text x="460.10" y="390.8" text-anchor="middle" font-size="12.6">0.6</text>
<text x="502.80" y="390.8" text-anchor="middle" font-size="12.6">0.8</text>
<text x="545.50" y="390.8" text-anchor="middle" font-size="12.6">1.0</text>
<text x="329" y="381.20" text-anchor="end" font-size="12.8">0.0</text>
<text x="329" y="329.03" text-anchor="end" font-size="12.8">0.5</text>
<text x="329" y="276.87" text-anchor="end" font-size="12.8">1.0</text>
<text x="329" y="224.70" text-anchor="end" font-size="12.8">1.5</text>
<text x="438.75" y="403.1" text-anchor="middle" font-size="12.7" font-style="italic" style="stroke-width:0.15px">y/H</text>
<g transform="translate(302.7,299.95) rotate(-90)"><text x="0" y="0" text-anchor="middle" font-size="12.7" font-style="italic" style="stroke-width:0.15px">U/U<tspan font-size="7.5" dx="-1.0" dy="5.5">b</tspan></text></g>
<text x="275.4" y="215.5" font-size="17.3" style="stroke-width:0.1px">(d)</text>
<text x="496.4" y="237.4" font-size="12.4">Kn=10</text>
<line x1="393.9" y1="343.5" x2="416.5" y2="343.5" stroke="#111" stroke-width="1.3"/>
<line x1="393.9" y1="355.4" x2="416.5" y2="355.4" stroke="#111" stroke-width="1.3" stroke-dasharray="4,3"/>
<circle cx="405.4" cy="367.3" r="2.8" fill="none" stroke="#111" stroke-width="1.1"/>
<text x="418.70" y="347.30" font-size="9.7">LBGK (D2Q21)</text>
<text x="418.70" y="358.60" font-size="9.7">LBGK (D2Q9)</text>
<text x="418.70" y="370.70" font-size="9.7">DSMC</text>
</svg></body></html>
